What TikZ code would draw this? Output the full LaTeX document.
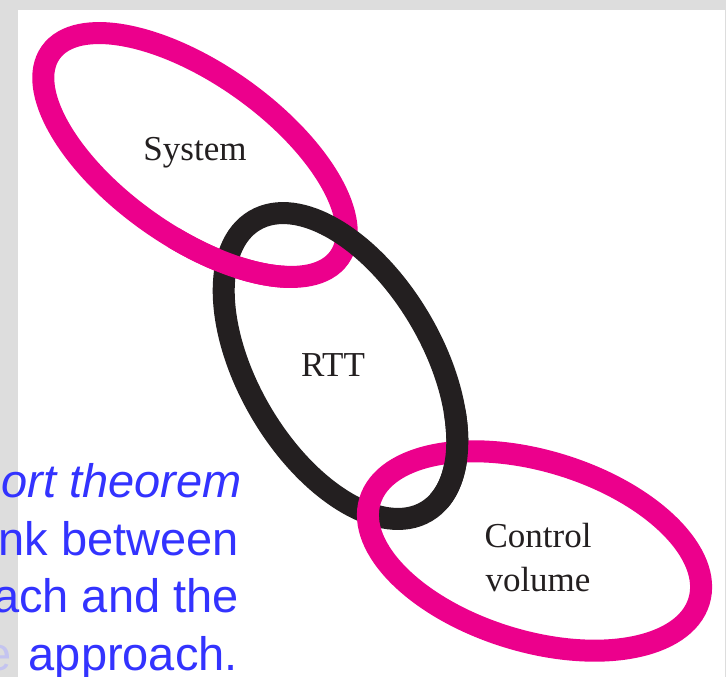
\documentclass[tikz,border=0pt]{standalone}
\usepackage{fontspec}
\setmainfont{Liberation Serif}
\newfontfamily\arialfont{Liberation Sans}
\definecolor{mag}{HTML}{EC008C}
\definecolor{ink}{HTML}{231F20}
\definecolor{slideblue}{HTML}{3333FF}
\definecolor{faintblue}{HTML}{C4C4F0}
\definecolor{slidegray}{HTML}{DDDDDD}
\begin{document}
\begin{tikzpicture}[x=1pt,y=1pt,
  ring/.style={line width=22pt},
  sysring/.style={ring, draw=mag},
  rttring/.style={ring, draw=ink},
  lbl/.style={font=\fontsize{35}{44}\selectfont, text=ink, inner sep=0pt, align=center},
  slidetext/.style={font=\arialfont\fontsize{47}{47}\selectfont, text=slideblue, inner sep=0pt, anchor=base east}]
\useasboundingbox (0,0) rectangle (726,-677);
\clip (0,0) rectangle (726,-677);
\fill[slidegray] (0,0) rectangle (726,-677);
\fill[white] (17.5,-10) rectangle (724.5,-677);
% slide text (cut off at the left)
\node[slidetext] (t1) at (242,-497) {\itshape ort theorem};
\node[slidetext] (t2) at (239,-555) {nk between};
\node[slidetext] (t3) at (239,-612) {ach and the};
\node[slidetext, text=faintblue] (t4a) at (12,-670) {e};
\node[slidetext] (t4) at (238,-670) {approach.};
% System ring
\begin{scope}[shift={(195,-155)},rotate=-35.4]
  \draw[sysring] (0,0) ellipse [x radius=177,y radius=81];
\end{scope}
% RTT ring
\begin{scope}[shift={(340.5,-366)},rotate=-59.5]
  \draw[rttring] (0,0) ellipse [x radius=169,y radius=92];
\end{scope}
% System passes over RTT at the left crossing
\begin{scope}[shift={(195,-155)},rotate=-35.4]
  \draw[sysring] (-80:177 and 81) arc[start angle=-80,end angle=-35,x radius=177,y radius=81];
\end{scope}
% Control volume ring
\begin{scope}[shift={(534.5,-551)},rotate=-17]
  \draw[sysring] (0,0) ellipse [x radius=172,y radius=90];
\end{scope}
% RTT passes over Control volume at the upper crossing
\begin{scope}[shift={(340.5,-366)},rotate=-59.5]
  \draw[rttring] (10:169 and 92) arc[start angle=10,end angle=55,x radius=169,y radius=92];
\end{scope}
% labels
\node[lbl] (sys) at (195,-153) {System};
\node[lbl] (rtt) at (333,-365) {RTT};
\node[lbl] (cv) at (538,-558) {Control\\volume};
\end{tikzpicture}
\end{document}
